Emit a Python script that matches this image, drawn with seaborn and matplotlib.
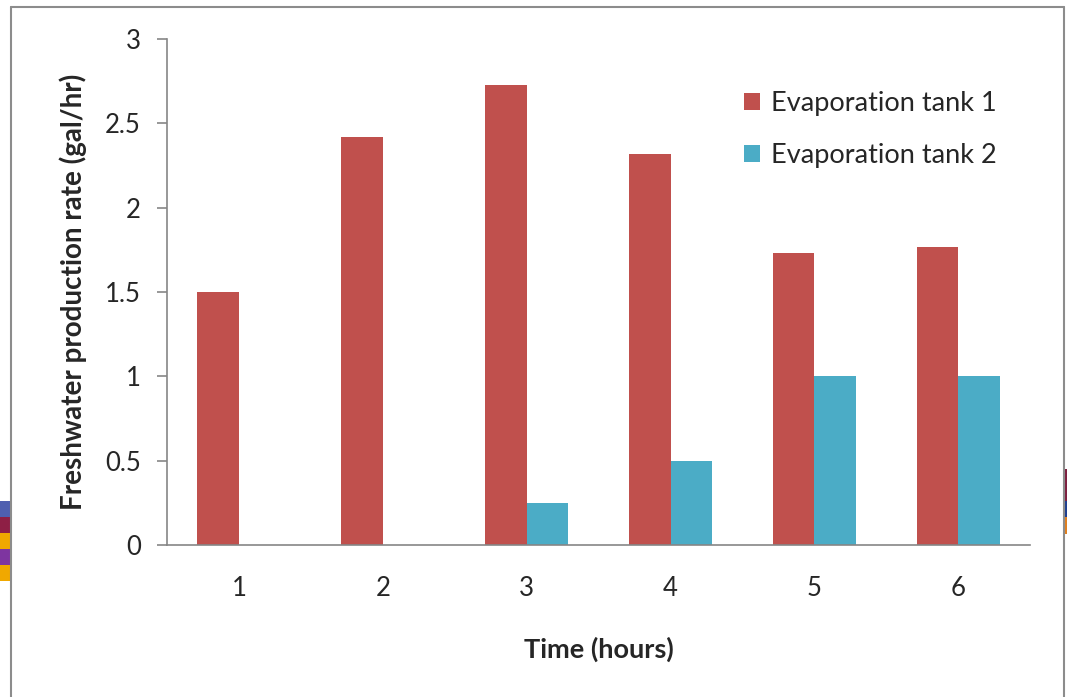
import matplotlib
matplotlib.use("Agg")
import matplotlib.pyplot as plt
from matplotlib.patches import Rectangle, Patch
from matplotlib.lines import Line2D
import seaborn as sns
import pandas as pd

# Freshwater output per hour for the two evaporation tanks
hours = [1, 2, 3, 4, 5, 6]
tank1 = [1.50, 2.42, 2.73, 2.32, 1.73, 1.77]
tank2 = [0.0, 0.0, 0.25, 0.50, 1.00, 1.00]
series_names = ["Evaporation tank 1", "Evaporation tank 2"]
colors = ["#C0504D", "#4BACC6"]

df = pd.DataFrame({
    "hour": [str(h) for h in hours] * 2,
    "rate": tank1 + tank2,
    "series": [series_names[0]] * len(hours) + [series_names[1]] * len(hours),
})

sns.set_theme(style="white")
plt.rcParams["font.family"] = ["Lato", "DejaVu Sans"]

fig = plt.figure(figsize=(10.71, 6.97), dpi=100)
ax = fig.add_axes([0.156, 0.218, 0.806, 0.726])

sns.barplot(data=df, x="hour", y="rate", hue="series", palette=colors,
            width=0.58, gap=0, saturation=1, ax=ax, legend=False,
            linewidth=0, edgecolor="none")

ax.set_ylim(0, 3)
ax.set_yticks([0, 0.5, 1, 1.5, 2, 2.5, 3])
ax.set_yticklabels(["0", "0.5", "1", "1.5", "2", "2.5", "3"])
ax.set_xlim(-0.5, 5.5)

spine_color = "#868686"
for side in ["top", "right"]:
    ax.spines[side].set_visible(False)
for side in ["left", "bottom"]:
    ax.spines[side].set_color(spine_color)
    ax.spines[side].set_linewidth(1.2)

ax.tick_params(axis="y", which="major", left=True, length=7, width=1.2,
               color=spine_color, labelsize=18.5, pad=12, direction="out")
ax.tick_params(axis="x", bottom=False, labelsize=18.5, pad=16)

ax.set_xlabel("Time (hours)", fontsize=19.5, fontweight="bold", labelpad=26)
ax.set_ylabel("Freshwater production rate (gal/hr)", fontsize=20,
              fontweight="bold", labelpad=13)

handles = [Patch(facecolor=c, edgecolor="none") for c in colors]
ax.legend(handles, series_names, loc="upper left",
          bbox_to_anchor=(0.643, 0.94), frameon=False, fontsize=19.5,
          handlelength=0.6, handleheight=0.6, handletextpad=0.4,
          labelspacing=1.0, borderpad=0.3)

# Outer chart frame
frame_color = "#8C8C8C"
W, H = 1071, 697
fig.add_artist(Line2D([11 / W, 1064 / W], [1 - 7 / H, 1 - 7 / H],
                      transform=fig.transFigure, color=frame_color, lw=1.5))
fig.add_artist(Line2D([11 / W, 11 / W], [0, 1 - 7 / H],
                      transform=fig.transFigure, color=frame_color, lw=1.5))
fig.add_artist(Line2D([1064 / W, 1064 / W], [0, 1 - 7 / H],
                      transform=fig.transFigure, color=frame_color, lw=1.5))

# Small colour swatches at the page edges
left_swatches = ["#4F5FB0", "#8E1F45", "#F0A800", "#7E35A0", "#F0A800"]
for i, c in enumerate(left_swatches):
    y0 = 501 + i * 16
    fig.add_artist(Rectangle((0, 1 - (y0 + 16) / H), 11 / W, 16 / H,
                             transform=fig.transFigure, color=c, lw=0))
right_swatches = [("#7E2040", 469, 32), ("#1F3F8F", 501, 16), ("#E08020", 517, 17)]
for c, y0, h in right_swatches:
    fig.add_artist(Rectangle((1065 / W, 1 - (y0 + h) / H), 2 / W, h / H,
                             transform=fig.transFigure, color=c, lw=0))

fig.savefig("out.png", dpi=100)
